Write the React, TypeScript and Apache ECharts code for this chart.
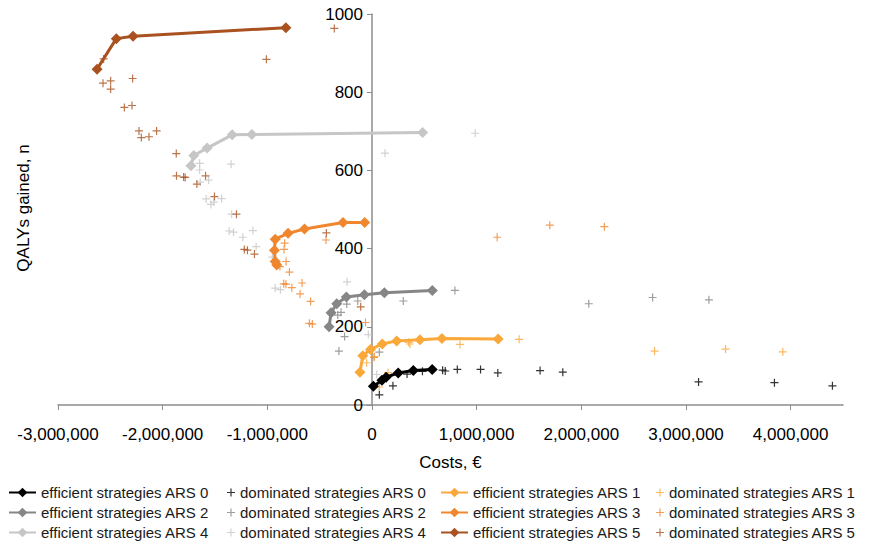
import { useEffect, useRef } from 'react';
import * as echarts from 'echarts';

// Strategy groups and their colours
const groups = ['ARS 0', 'ARS 1', 'ARS 2', 'ARS 3', 'ARS 4', 'ARS 5'];
const groupColors = ['#000000', '#FBA83A', '#868686', '#F0862E', '#C6C6C6', '#A9521F'];

// Axis ticks
const costTicks = [-3000000, -2000000, -1000000, 0, 1000000, 2000000, 3000000, 4000000];
const qalyTicks = [0, 200, 400, 600, 800, 1000];

// [cost €, QALYs gained] per strategy
const efficientArs0 = [[13000, 48], [95000, 63], [135000, 71], [250000, 82], [395000, 88], [575000, 91]];
const dominatedArs0 = [[70000, 26], [200000, 49], [335000, 79], [482000, 86], [675000, 89], [700000, 87], [815000, 91], [1037000, 91], [1202000, 82], [1606000, 88], [1823000, 84], [3120000, 59], [3845000, 57], [4399000, 49]];

const efficientArs1 = [[-115000, 84], [-88000, 126], [-15000, 142], [98000, 156], [236000, 164], [458000, 167], [668000, 170], [1205000, 169]];
const dominatedArs1 = [[-51000, 108], [22000, 124], [70000, 46], [153000, 83], [350000, 160], [363000, 156], [840000, 155], [1406000, 168], [2700000, 138], [3378000, 143], [3925000, 136]];

const efficientArs2 = [[-410000, 200], [-391000, 236], [-337000, 259], [-245000, 276], [-73000, 282], [118000, 287], [576000, 293]];
const dominatedArs2 = [[-316000, 138], [-262000, 175], [-296000, 237], [-327000, 230], [-241000, 258], [-136000, 266], [70000, 135], [299000, 266], [792000, 293], [2071000, 259], [2681000, 275], [3219000, 269]];

const efficientArs3 = [[-910000, 358], [-925000, 367], [-932000, 396], [-925000, 424], [-802000, 439], [-645000, 450], [-277000, 467], [-70000, 467]];
const dominatedArs3 = [[-835000, 414], [-840000, 398], [-821000, 367], [-880000, 354], [-789000, 340], [-843000, 310], [-822000, 309], [-766000, 300], [-668000, 312], [-687000, 284], [-587000, 265], [-598000, 209], [-570000, 207], [-440000, 422], [-62000, 211], [20000, 122], [1196000, 429], [1699000, 460], [2220000, 456]];

const efficientArs4 = [[-1730000, 612], [-1703000, 638], [-1575000, 657], [-1336000, 691], [-1148000, 692], [484000, 697]];
const dominatedArs4 = [[-1647000, 618], [-1647000, 601], [-1346000, 616], [-1641000, 570], [-1562000, 575], [-1584000, 527], [-1539000, 513], [-1511000, 519], [-1437000, 528], [-1341000, 488], [-1365000, 445], [-1323000, 442], [-1138000, 446], [-1234000, 429], [-1107000, 405], [-952000, 378], [-925000, 299], [-875000, 295], [-238000, 315], [-35000, 180], [45000, 78], [124000, 644], [986000, 695]];

const efficientArs5 = [[-2627000, 859], [-2443000, 937], [-2283000, 943], [-823000, 965]];
const dominatedArs5 = [[-2564000, 885], [-2570000, 823], [-2497000, 829], [-2497000, 808], [-2287000, 835], [-2366000, 761], [-2293000, 766], [-2226000, 701], [-2204000, 684], [-2131000, 686], [-2058000, 701], [-1870000, 643], [-1868000, 586], [-1800000, 583], [-1785000, 582], [-1590000, 586], [-1673000, 565], [-1505000, 533], [-1295000, 488], [-1220000, 398], [-1190000, 396], [-1123000, 386], [-1009000, 884], [-436000, 440], [-360000, 963], [-108000, 251]];

const efficientSets = [efficientArs0, efficientArs1, efficientArs2, efficientArs3, efficientArs4, efficientArs5];
const dominatedSets = [dominatedArs0, dominatedArs1, dominatedArs2, dominatedArs3, dominatedArs4, dominatedArs5];

const PLUS = 'path://M3.4,0H4.6V8H3.4ZM0,3.4H8V4.6H0Z';
const FONT = '"Liberation Sans", Arial, sans-serif';

const X_MIN = -3000000;
const X_MAX = 4500000;
const GRID_LEFT = 58;
const GRID_RIGHT = 32;
const CHART_W = 875;

const effName = (g: string) => `efficient strategies ${g}`;
const domName = (g: string) => `dominated strategies ${g}`;

export default function App() {
  const ref = useRef<HTMLDivElement>(null);

  useEffect(() => {
    if (!ref.current) return;
    const chart = echarts.init(ref.current, undefined, { renderer: 'svg' });

    const series: any[] = [];
    groups.forEach((g, i) => {
      series.push({
        name: effName(g),
        type: 'line',
        data: efficientSets[i],
        symbol: 'diamond',
        symbolSize: 11,
        showAllSymbol: true,
        lineStyle: { width: 3, color: groupColors[i] },
        itemStyle: { color: groupColors[i] },
        z: 3,
      });
      series.push({
        name: domName(g),
        type: 'scatter',
        data: dominatedSets[i],
        symbol: PLUS,
        symbolSize: 8,
        itemStyle: { color: groupColors[i] },
        z: 2,
      });
    });

    // the value axis crosses the cost axis at zero cost
    const plotW = CHART_W - GRID_LEFT - GRID_RIGHT;
    const zeroOffset = (-X_MIN / (X_MAX - X_MIN)) * plotW;

    const legendBase = {
      orient: 'vertical',
      top: 484,
      padding: 0,
      itemGap: 3,
      selectedMode: false,
      textStyle: { fontFamily: FONT, fontSize: 15, color: '#1a1a1a', lineHeight: 17 },
    };
    const col = (idx: number[], fn: (g: string) => string) => idx.map((k) => fn(groups[k]));

    chart.setOption({
      animation: false,
      backgroundColor: '#ffffff',
      grid: { left: GRID_LEFT, right: GRID_RIGHT, top: 14, bottom: 140 },
      xAxis: {
        type: 'value',
        min: X_MIN,
        max: X_MAX,
        interval: 1000000,
        name: 'Costs, €',
        nameLocation: 'middle',
        nameGap: 49,
        nameTextStyle: { fontFamily: FONT, fontSize: 17, color: '#000' },
        axisLine: { onZero: false, lineStyle: { color: '#8c8c8c', width: 1.5 } },
        axisTick: { show: true, length: 5, lineStyle: { color: '#8c8c8c' }, customValues: costTicks },
        axisLabel: {
          customValues: costTicks,
          margin: 21,
          fontFamily: FONT,
          fontSize: 17,
          color: '#000',
          formatter: (v: number) => v.toLocaleString('en-US'),
        },
        splitLine: { show: false },
      },
      yAxis: {
        type: 'value',
        position: 'left',
        offset: -zeroOffset,
        min: 0,
        max: 1000,
        interval: 200,
        axisLine: { show: true, onZero: false, lineStyle: { color: '#8c8c8c', width: 1.5 } },
        axisTick: { show: true, length: 5, lineStyle: { color: '#8c8c8c' }, customValues: qalyTicks },
        axisLabel: {
          customValues: qalyTicks,
          margin: 9,
          fontFamily: FONT,
          fontSize: 17,
          color: '#000',
          formatter: (v: number) => String(v),
        },
        splitLine: { show: false },
      },
      legend: [
        { ...legendBase, left: 8, itemWidth: 27, itemHeight: 12, data: col([0, 2, 4], effName) },
        { ...legendBase, left: 227, itemWidth: 8, itemHeight: 8, data: col([0, 2, 4], domName) },
        { ...legendBase, left: 440, itemWidth: 27, itemHeight: 12, data: col([1, 3, 5], effName) },
        { ...legendBase, left: 656, itemWidth: 8, itemHeight: 8, data: col([1, 3, 5], domName) },
      ],
      graphic: [
        {
          type: 'text',
          x: 23,
          y: 208,
          rotation: Math.PI / 2,
          style: {
            text: 'QALYs gained, n',
            fontFamily: FONT,
            fontSize: 17,
            fill: '#000',
            align: 'center',
            verticalAlign: 'middle',
          },
        },
      ],
      series,
    });

    return () => chart.dispose();
  }, []);

  return <div ref={ref} style={{ width: 875, height: 545, position: 'fixed', left: 0, top: 0 }} />;
}
